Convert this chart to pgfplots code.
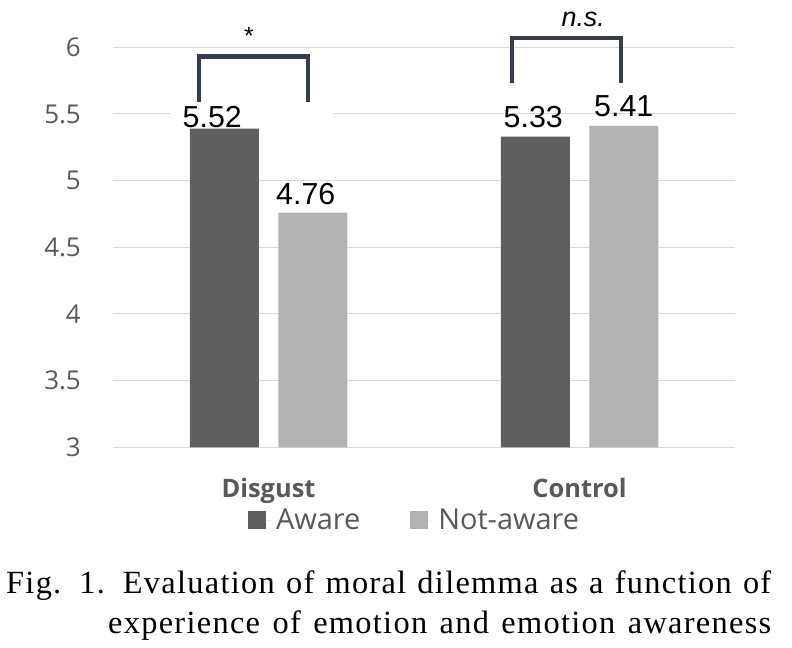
\documentclass[border=0pt]{standalone}
\usepackage{fontspec}
\setmainfont{Open Sans}
\newfontfamily\arialf{Liberation Sans}
\newfontfamily\capf[LetterSpace=4]{Liberation Serif}
\usepackage{pgfplots}
\usepackage{pgfplotstable}
\pgfplotsset{compat=1.18}

\definecolor{darkbar}{HTML}{5F5F5F}
\definecolor{lightbar}{HTML}{B2B2B2}
\definecolor{gridc}{HTML}{D9D9D9}
\definecolor{labc}{HTML}{595959}
\definecolor{brk}{HTML}{333F50}

% bar height, printed label, label offsets (bp)
\pgfplotstableread{
x y lab dx dy
0 5.39 5.52 -12 1
1 5.33 5.33 -2 9
}\aware
\pgfplotstableread{
x y lab dx dy
0 4.76 4.76 -7 8
1 5.41 5.41 0 9
}\notaware

\begin{document}
\begin{tikzpicture}
\useasboundingbox (0,0) rectangle (792bp,-648bp);
\begin{axis}[
    at={(113bp,-447.3bp)}, anchor=south west,
    scale only axis,
    width=622bp, height=400bp,
    xmin=-0.5, xmax=1.5,
    ymin=3, ymax=6,
    ybar=19.5bp, bar width=69bp,
    clip=false,
    axis line style={draw=none},
    major tick length=0pt,
    ytick={3,3.5,...,6},
    ymajorgrids,
    grid style={gridc, line width=1bp},
    xtick={0,1},
    xticklabels={Disgust, Control},
    /pgf/number format/assume math mode=true,
    yticklabel style={font=\fontsize{26}{31}\selectfont, text=labc, anchor=east, inner sep=0pt, xshift=-32bp},
    xticklabel style={font=\bfseries\fontsize{25.5}{30}\selectfont, text=labc, anchor=base, yshift=-50bp},
    legend columns=2,
    legend style={draw=none, fill=none, inner sep=0pt,
        nodes={inner sep=4.5bp},
        at={(0.216,-0.182)}, anchor=west,
        font=\fontsize{29}{34}\selectfont, text=labc,
        /tikz/every even column/.append style={column sep=45bp}},
    legend image code/.code={\fill[#1] (0bp,-9bp) rectangle (18bp,9bp); \path (0bp,0bp) -- (24bp,0bp);},
    point meta=explicit symbolic,
    visualization depends on=\thisrow{dx}\as\lbdx,
    visualization depends on=\thisrow{dy}\as\lbdy,
    nodes near coords,
    every node near coord/.append style={font=\arialf\fontsize{30.5}{35}\selectfont, text=black, anchor=base, xshift=\lbdx bp, yshift=\lbdy bp},
]
% white patch that breaks the 5.5 gridline behind the first label
\fill[white] (axis cs:-0.317,5.485) rectangle (axis cs:0.207,5.515);
\addplot[fill=darkbar, draw=none] table[x=x, y=y, meta=lab] {\aware};
\addlegendentry{Aware}
\addplot[fill=lightbar, draw=none] table[x=x, y=y, meta=lab] {\notaware};
\addlegendentry{Not-aware}

\draw[brk, line width=4.5bp, line join=miter] (axis cs:-0.2235,5.59) -- (axis cs:-0.2235,5.93) -- (axis cs:0.127,5.93) -- (axis cs:0.127,5.59);
\draw[brk, line width=4.5bp, line join=miter] (axis cs:0.783,5.73) -- (axis cs:0.783,6.07) -- (axis cs:1.133,6.07) -- (axis cs:1.133,5.73);
\node[anchor=base, inner sep=0pt, font=\arialf\fontsize{25}{30}\selectfont] at (axis cs:-0.063,6.02) {*};
\node[anchor=base, inner sep=0pt, font=\arialf\itshape\fontsize{27}{32}\selectfont] at (axis cs:1.012,6.153) {n.s.};
\end{axis}

\node[anchor=base west, inner sep=0pt, font=\capf\fontsize{32.5}{38}\selectfont] at (6bp,-593bp)
    {\makebox[765bp][s]{Fig. 1. Evaluation of moral dilemma as a function of}};
\node[anchor=base west, inner sep=0pt, font=\capf\fontsize{32.5}{38}\selectfont] at (108bp,-633bp)
    {\makebox[663bp][s]{experience of emotion and emotion awareness}};
\end{tikzpicture}
\end{document}
